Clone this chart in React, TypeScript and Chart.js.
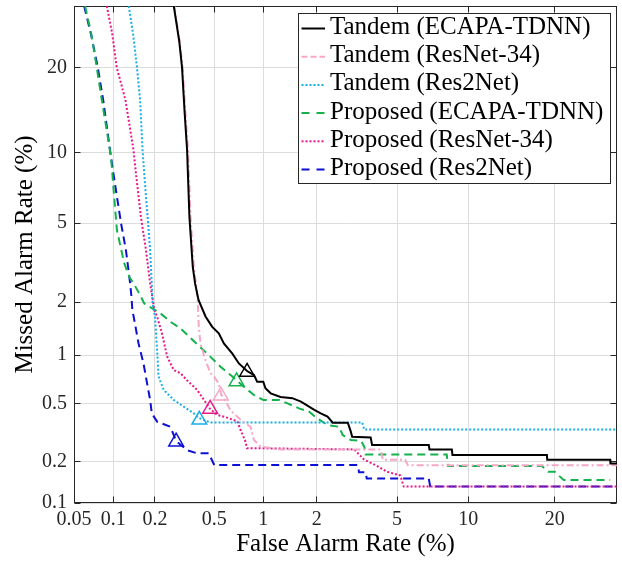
import React, { useEffect, useRef } from 'react';
import { Chart, registerables, LinearScale } from 'chart.js';

Chart.register(...registerables);

// ---------- data (percent) ----------
const xTickValues = [0.05, 0.1, 0.2, 0.5, 1, 2, 5, 10, 20];
const xTickLabels = ['0.05', '0.1', '0.2', '0.5', '1', '2', '5', '10', '20'];
const yTickValues = [0.1, 0.2, 0.5, 1, 2, 5, 10, 20];
const yTickLabels = ['0.1', '0.2', '0.5', '1', '2', '5', '10', '20'];
const xRange = [0.05, 30];
const yRange = [0.1, 30];

const seriesLabels = [
  'Tandem (ECAPA-TDNN)',
  'Tandem (ResNet-34)',
  'Tandem (Res2Net)',
  'Proposed (ECAPA-TDNN)',
  'Proposed (ResNet-34)',
  'Proposed (Res2Net)',
];

const tandemEcapa: number[][] = [
  [0.27, 30], [0.294, 24], [0.307, 20], [0.32, 14], [0.332, 10.2], [0.344, 5.35], [0.362, 3.07],
  [0.375, 2.52], [0.395, 2.06], [0.439, 1.67], [0.485, 1.46], [0.534, 1.34],
  [0.575, 1.17], [0.65, 1.02], [0.713, 0.89], [0.8, 0.8], [0.88, 0.756], [0.92, 0.687],
  [1.0, 0.687], [1.03, 0.625], [1.105, 0.58], [1.26, 0.55], [1.47, 0.54], [1.64, 0.513],
  [1.94, 0.453], [2.1, 0.43], [2.28, 0.41], [2.43, 0.373], [2.9, 0.373], [3.0, 0.326],
  [3.05, 0.3], [3.76, 0.296], [3.82, 0.263], [6.9, 0.263], [6.95, 0.245], [8.6, 0.245],
  [8.65, 0.224], [18.9, 0.224], [18.95, 0.207], [28.8, 0.207], [28.85, 0.195], [30, 0.195],
];

const tandemResnet: number[][] = [
  [0.272, 30], [0.296, 24], [0.31, 20], [0.324, 14], [0.337, 10.2], [0.35, 5.35], [0.368, 3.07],
  [0.38, 2.52], [0.39, 2.06], [0.397, 1.46], [0.407, 1.17], [0.439, 0.93], [0.473, 0.775],
  [0.497, 0.74], [0.534, 0.67], [0.553, 0.57], [0.6, 0.5], [0.633, 0.45], [0.73, 0.39],
  [0.84, 0.35], [0.88, 0.285], [0.965, 0.256], [1.25, 0.245], [4.19, 0.245], [4.3, 0.207],
  [5.44, 0.207], [5.6, 0.189], [30, 0.189],
];

const tandemRes2: number[][] = [
  [0.13, 30], [0.14, 25], [0.149, 20], [0.157, 15.6], [0.1635, 10.2], [0.17, 7.5], [0.1774, 5.35],
  [0.185, 3.72], [0.19, 2.5], [0.1925, 1.97], [0.2, 1.67], [0.207, 1.07], [0.212, 0.74],
  [0.23, 0.61], [0.27, 0.526], [0.315, 0.476], [0.368, 0.43], [0.4, 0.4], [0.47, 0.374],
  [3.42, 0.374], [3.5, 0.335], [30, 0.335],
];

const proposedEcapa: number[][] = [
  [0.061, 30], [0.068, 25.3], [0.075, 20], [0.082, 15.6], [0.095, 10], [0.097, 9.07],
  [0.1014, 6.57], [0.1063, 4.64], [0.1203, 3.2], [0.131, 2.73], [0.1408, 2.52], [0.1547, 2.23],
  [0.168, 1.97], [0.218, 1.74], [0.256, 1.56], [0.3, 1.43], [0.36, 1.23], [0.45, 1.02],
  [0.548, 0.85], [0.65, 0.74], [0.69, 0.7], [0.784, 0.625], [0.88, 0.566], [1.0, 0.526],
  [1.235, 0.526], [1.38, 0.5], [1.6, 0.464], [1.82, 0.441], [2.0, 0.4], [2.28, 0.36],
  [2.62, 0.35], [2.73, 0.308], [3.0, 0.285], [3.38, 0.28], [3.5, 0.256], [3.55, 0.226],
  [8.2, 0.226], [8.3, 0.187], [18.2, 0.187], [19.1, 0.17], [20, 0.17], [21.3, 0.148],
  [28.8, 0.148],
];

const proposedResnet: number[][] = [
  [0.0894, 30], [0.098, 25.3], [0.106, 20], [0.116, 17.3], [0.123, 15.6], [0.1408, 10.2],
  [0.1465, 8.26], [0.159, 5.35], [0.1728, 3.72], [0.185, 2.52], [0.198, 1.81], [0.207, 1.67],
  [0.224, 1.34], [0.243, 0.98], [0.27, 0.81], [0.3, 0.775], [0.332, 0.7], [0.387, 0.61],
  [0.47, 0.46], [0.522, 0.42], [0.618, 0.4], [0.7, 0.379], [0.73, 0.333], [0.78, 0.28],
  [0.8, 0.25], [3.12, 0.245], [3.49, 0.208], [4.04, 0.187], [4.5, 0.17], [5.17, 0.16],
  [5.36, 0.1326], [30, 0.1326],
];

const proposedRes2: number[][] = [
  [0.06, 30], [0.068, 25], [0.0764, 20], [0.084, 15.6], [0.095, 10], [0.1027, 7.5],
  [0.114, 5], [0.124, 3.7], [0.133, 2.52], [0.136, 2.14], [0.138, 1.81], [0.141, 1.67],
  [0.153, 1.17], [0.166, 0.89], [0.176, 0.67], [0.185, 0.526], [0.19, 0.43], [0.207, 0.379],
  [0.256, 0.35], [0.28, 0.28], [0.332, 0.242], [0.387, 0.23], [0.46, 0.23], [0.5, 0.19],
  [3.25, 0.19], [3.3, 0.169], [3.55, 0.169], [3.6, 0.152], [6.9, 0.152], [7.0, 0.1326],
  [30, 0.1326],
];

const minDcfFA = [0.8, 0.55, 0.4, 0.69, 0.47, 0.28];
const minDcfMiss = [0.79, 0.56, 0.39, 0.69, 0.46, 0.277];

// ---------- styling ----------
const seriesData = [tandemEcapa, tandemResnet, tandemRes2, proposedEcapa, proposedResnet, proposedRes2];
const seriesColors = ['#000000', '#f7a6c6', '#1aaee6', '#14b14c', '#e8188a', '#0b10d4'];
const seriesDash = [[], [7, 3, 2, 3], [2, 2], [8, 5], [2, 2], [8, 5]];
const legendDash = [[], [6, 3], [2, 2], [8, 7], [2, 2], [8, 7]];
const SERIF = '"Liberation Serif", "Times New Roman", serif';

// ---------- normal deviate scale ----------
function probit(p: number): number {
  const a = [-3.969683028665376e1, 2.209460984245205e2, -2.759285104469687e2, 1.38357751867269e2, -3.066479806614716e1, 2.506628277459239];
  const b = [-5.447609879822406e1, 1.615858368580409e2, -1.556989798598866e2, 6.680131188771972e1, -1.328068155288572e1];
  const c = [-7.784894002430293e-3, -3.223964580411365e-1, -2.400758277161838, -2.549732539343734, 4.374664141464968, 2.938163982698783];
  const d = [7.784695709041462e-3, 3.224671290700398e-1, 2.445134137142996, 3.754408661907416];
  const pl = 0.02425;
  if (p < pl) {
    const q = Math.sqrt(-2 * Math.log(p));
    return (((((c[0] * q + c[1]) * q + c[2]) * q + c[3]) * q + c[4]) * q + c[5]) / ((((d[0] * q + d[1]) * q + d[2]) * q + d[3]) * q + 1);
  }
  if (p <= 1 - pl) {
    const q = p - 0.5;
    const r = q * q;
    return ((((((a[0] * r + a[1]) * r + a[2]) * r + a[3]) * r + a[4]) * r + a[5]) * q) / (((((b[0] * r + b[1]) * r + b[2]) * r + b[3]) * r + b[4]) * r + 1);
  }
  const q = Math.sqrt(-2 * Math.log(1 - p));
  return -(((((c[0] * q + c[1]) * q + c[2]) * q + c[3]) * q + c[4]) * q + c[5]) / ((((d[0] * q + d[1]) * q + d[2]) * q + d[3]) * q + 1);
}

function normCdf(z: number): number {
  const t = 1 / (1 + 0.2316419 * Math.abs(z));
  const dd = 0.3989423 * Math.exp(-z * z / 2);
  const pr = dd * t * (0.3193815 + t * (-0.3565638 + t * (1.781478 + t * (-1.821256 + t * 1.330274))));
  return z > 0 ? 1 - pr : pr;
}

class ProbitScale extends (LinearScale as any) {
  static id = 'probit';
  static defaults = (LinearScale as any).defaults;
  getPixelForValue(value: number) {
    if (value === null || value === undefined || isNaN(value)) return NaN;
    const lo = probit(this.min / 100);
    const hi = probit(this.max / 100);
    return this.getPixelForDecimal((probit(value / 100) - lo) / (hi - lo));
  }
  getValueForPixel(pixel: number) {
    const lo = probit(this.min / 100);
    const hi = probit(this.max / 100);
    return normCdf(lo + this.getDecimalForPixel(pixel) * (hi - lo)) * 100;
  }
}
Chart.register(ProbitScale as any);

const framePlugin = {
  id: 'detFrame',
  beforeDatasetsDraw(chart: any) {
    const { ctx, chartArea: ar, scales } = chart;
    const L = Math.round(ar.left) + 0.5;
    const R = Math.round(ar.right) - 0.5;
    const T = Math.round(ar.top) + 0.5;
    const B = Math.round(ar.bottom) - 0.5;
    ctx.save();
    ctx.strokeStyle = '#262626';
    ctx.lineWidth = 1;
    ctx.strokeRect(L, T, R - L, B - T);
    const tl = 6;
    ctx.beginPath();
    for (const v of xTickValues) {
      const px = Math.round(scales.x.getPixelForValue(v) - 0.5) + 0.5;
      ctx.moveTo(px, B); ctx.lineTo(px, B - tl);
      ctx.moveTo(px, T); ctx.lineTo(px, T + tl);
    }
    for (const v of yTickValues) {
      const py = Math.round(scales.y.getPixelForValue(v) - 0.5) + 0.5;
      ctx.moveTo(L, py); ctx.lineTo(L + tl, py);
      ctx.moveTo(R, py); ctx.lineTo(R - tl, py);
    }
    ctx.stroke();
    ctx.restore();
  },
};

const legendPlugin = {
  id: 'detLegend',
  afterDatasetsDraw(chart: any) {
    const { ctx, chartArea: ar } = chart;
    const w = 312;
    const h = 170;
    const right = Math.round(ar.right) - 7;
    const top = Math.round(ar.top) + 7;
    const left = right - w;
    ctx.save();
    ctx.fillStyle = '#ffffff';
    ctx.fillRect(left + 0.5, top + 0.5, w, h);
    ctx.strokeStyle = '#262626';
    ctx.lineWidth = 1;
    ctx.strokeRect(left + 0.5, top + 0.5, w, h);
    ctx.font = `25px ${SERIF}`;
    ctx.textBaseline = 'alphabetic';
    ctx.textAlign = 'left';
    seriesLabels.forEach((lab, i) => {
      const y = top + 15.5 + i * 28.2;
      ctx.beginPath();
      ctx.strokeStyle = seriesColors[i];
      ctx.lineWidth = 2;
      ctx.setLineDash(legendDash[i]);
      ctx.moveTo(left + 3.5, y);
      ctx.lineTo(left + 27, y);
      ctx.stroke();
      ctx.setLineDash([]);
      ctx.fillStyle = '#000000';
      ctx.fillText(lab, left + 32, y + 5.5);
    });
    ctx.restore();
  },
};

export default function App() {
  const ref = useRef<HTMLCanvasElement>(null);

  useEffect(() => {
    if (!ref.current) return;
    const lineSets = seriesData.map((pts, i) => ({
      label: seriesLabels[i],
      data: pts.map(([x, y]) => ({ x, y })),
      showLine: true,
      borderColor: seriesColors[i],
      backgroundColor: seriesColors[i],
      borderWidth: 2,
      borderDash: seriesDash[i],
      borderCapStyle: 'butt',
      pointRadius: 0,
      pointHoverRadius: 0,
      tension: 0,
      fill: false,
      order: 1,
    }));
    const markerSets = minDcfFA.map((fa, i) => ({
      label: seriesLabels[i] + ' minDCF',
      data: [{ x: fa, y: minDcfMiss[i] }],
      showLine: false,
      pointStyle: 'triangle',
      pointRadius: 8.5,
      pointBorderWidth: 1.5,
      pointBorderColor: seriesColors[i],
      pointBackgroundColor: 'rgba(0,0,0,0)',
      order: 0,
    }));

    const chart = new Chart(ref.current, {
      type: 'scatter',
      data: { datasets: [...lineSets, ...markerSets] as any },
      options: {
        animation: false,
        responsive: false,
        events: [],
        layout: { autoPadding: false, padding: { top: 6, right: 5, left: 0, bottom: 0 } },
        plugins: { legend: { display: false }, tooltip: { enabled: false } },
        scales: {
          x: {
            type: 'probit' as any,
            min: xRange[0],
            max: xRange[1],
            afterBuildTicks: (s: any) => { s.ticks = xTickValues.map((v) => ({ value: v })); },
            afterFit: (s: any) => { s.height = 58; s.paddingLeft = 0; s.paddingRight = 0; },
            grid: { color: '#dcdcdc', lineWidth: 1, drawTicks: false },
            border: { display: false },
            ticks: {
              autoSkip: false,
              maxRotation: 0,
              padding: 5,
              color: '#262626',
              font: { family: SERIF, size: 20 },
              callback: (_v: any, i: number) => xTickLabels[i],
            },
            title: {
              display: true,
              text: 'False Alarm Rate (%)',
              color: '#000000',
              font: { family: SERIF, size: 25 },
              padding: { top: 0, bottom: 2 },
            },
          } as any,
          y: {
            type: 'probit' as any,
            min: yRange[0],
            max: yRange[1],
            afterBuildTicks: (s: any) => { s.ticks = yTickValues.map((v) => ({ value: v })); },
            afterFit: (s: any) => { s.width = 74; s.paddingTop = 0; s.paddingBottom = 0; },
            grid: { color: '#dcdcdc', lineWidth: 1, drawTicks: false },
            border: { display: false },
            ticks: {
              autoSkip: false,
              padding: 7,
              color: '#262626',
              font: { family: SERIF, size: 20 },
              callback: (_v: any, i: number) => yTickLabels[i],
            },
            title: {
              display: true,
              text: 'Missed Alarm Rate (%)',
              color: '#000000',
              font: { family: SERIF, size: 25 },
              padding: { top: 10, bottom: 0 },
            },
          } as any,
        },
      },
      plugins: [framePlugin, legendPlugin],
    });
    return () => chart.destroy();
  }, []);

  return (
    <div style={{ position: 'fixed', left: 0, top: 0, width: 622, height: 561, background: '#ffffff' }}>
      <canvas ref={ref} width={622} height={561} style={{ width: 622, height: 561, display: 'block' }} />
    </div>
  );
}
